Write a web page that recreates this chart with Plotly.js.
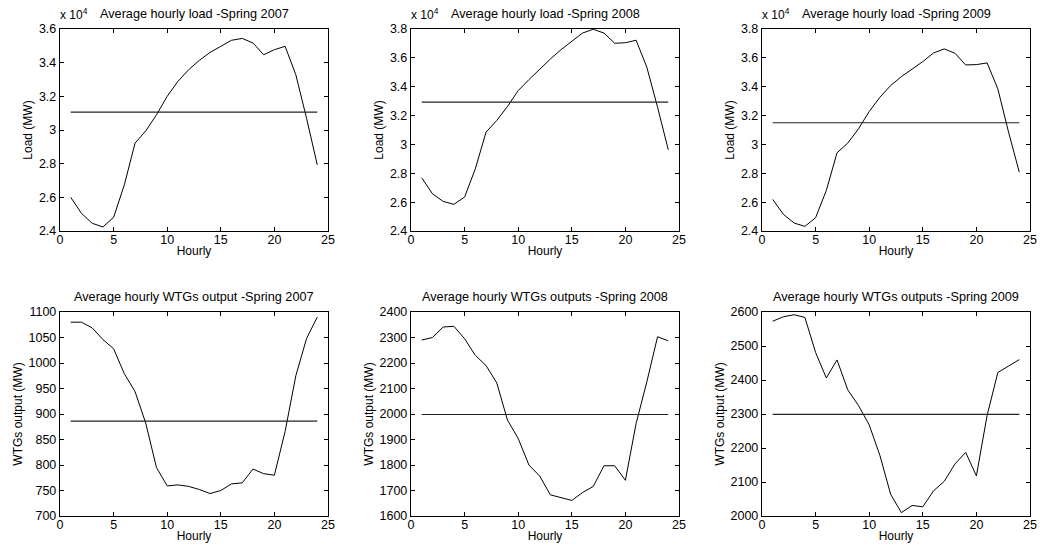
<!DOCTYPE html>
<html>
<head>
<meta charset="utf-8">
<script src="https://cdn.plot.ly/plotly-3.0.1.min.js"></script>
<style>
  html, body { margin: 0; padding: 0; background: #fff; }
  #chart { width: 1040px; height: 556px; }
</style>
</head>
<body>
<div id="chart"></div>
<script>
// Hours of the day
const hours = [1,2,3,4,5,6,7,8,9,10,11,12,13,14,15,16,17,18,19,20,21,22,23,24];

// Average hourly load (MW), spring seasons
const load2007 = [26000,25050,24460,24240,24810,26740,29220,29950,30900,32000,32890,33580,34140,34610,34970,35330,35440,35170,34470,34770,34970,33280,30700,27930];
const load2008 = [27690,26580,26050,25850,26350,28310,30850,31660,32630,33730,34490,35210,35920,36570,37120,37720,37980,37720,37010,37050,37220,35350,32580,29630];
const load2009 = [26190,25150,24550,24320,24920,26810,29420,30090,31080,32280,33270,34080,34700,35230,35740,36340,36620,36320,35510,35530,35650,33850,30850,28080];
const meanLoad = [31060, 32930, 31500];

// Average hourly WTGs output (MW), spring seasons
const wtg2007 = [1080,1080,1069,1046,1028,979,944,882,795,759,761,758,752,744,750,763,765,792,783,780,866,975,1048,1090];
const wtg2008 = [2290,2300,2341,2344,2295,2230,2190,2122,1976,1904,1800,1757,1683,1671,1661,1692,1716,1797,1797,1740,1963,2126,2303,2287];
const wtg2009 = [2573,2586,2592,2584,2481,2406,2459,2371,2325,2268,2178,2064,2010,2031,2027,2074,2102,2153,2187,2118,2296,2422,2441,2460];
const meanWtg = [886, 1998, 2299];

// Panel titles
const loadTitles = ['Average hourly load -Spring 2007', 'Average hourly load -Spring 2008', 'Average hourly load -Spring 2009'];
const wtgTitles = ['Average hourly WTGs output -Spring 2007', 'Average hourly WTGs outputs -Spring 2008', 'Average hourly WTGs outputs -Spring 2009'];

// Tick labels
const xTicks = [0, 5, 10, 15, 20, 25];
const loadTicks2007 = [24000, 26000, 28000, 30000, 32000, 34000, 36000];
const loadTicks0809 = [24000, 26000, 28000, 30000, 32000, 34000, 36000, 38000];
const loadTickText2007 = ['2.4', '2.6', '2.8', '3', '3.2', '3.4', '3.6'];
const loadTickText0809 = ['2.4', '2.6', '2.8', '3', '3.2', '3.4', '3.6', '3.8'];
const wtgTicks2007 = [700, 750, 800, 850, 900, 950, 1000, 1050, 1100];
const wtgTicks2008 = [1600, 1700, 1800, 1900, 2000, 2100, 2200, 2300, 2400];
const wtgTicks2009 = [2000, 2100, 2200, 2300, 2400, 2500, 2600];

const W = 1040, H = 556;
const FONT = 'Liberation Sans, Arial, sans-serif';

// Plot-area placement in pixels: columns [left,right], rows [top,bottom]
const cols = [[60, 328], [411, 679], [762, 1030]];
const rows = [[29, 231], [312, 516]];

const series = [
  { y: load2007, mean: meanLoad[0], title: loadTitles[0], range: [24000, 36000], tv: loadTicks2007, tt: loadTickText2007, ylab: 'Load (MW)', exp: true },
  { y: load2008, mean: meanLoad[1], title: loadTitles[1], range: [24000, 38000], tv: loadTicks0809, tt: loadTickText0809, ylab: 'Load (MW)', exp: true },
  { y: load2009, mean: meanLoad[2], title: loadTitles[2], range: [24000, 38000], tv: loadTicks0809, tt: loadTickText0809, ylab: 'Load (MW)', exp: true },
  { y: wtg2007, mean: meanWtg[0], title: wtgTitles[0], range: [700, 1100], tv: wtgTicks2007, tt: wtgTicks2007.map(String), ylab: 'WTGs output (MW)', exp: false },
  { y: wtg2008, mean: meanWtg[1], title: wtgTitles[1], range: [1600, 2400], tv: wtgTicks2008, tt: wtgTicks2008.map(String), ylab: 'WTGs output (MW)', exp: false },
  { y: wtg2009, mean: meanWtg[2], title: wtgTitles[2], range: [2000, 2600], tv: wtgTicks2009, tt: wtgTicks2009.map(String), ylab: 'WTGs output (MW)', exp: false }
];

const traces = [];
const layout = {
  width: W, height: H,
  margin: { l: 0, r: 0, t: 0, b: 0 },
  paper_bgcolor: '#fff', plot_bgcolor: '#fff',
  showlegend: false,
  font: { family: FONT, size: 12, color: '#000' },
  annotations: []
};

series.forEach((s, i) => {
  const r = Math.floor(i / 3), c = i % 3;
  const n = i + 1;
  const xa = 'x' + (n === 1 ? '' : n), ya = 'y' + (n === 1 ? '' : n);
  const xk = 'xaxis' + (n === 1 ? '' : n), yk = 'yaxis' + (n === 1 ? '' : n);
  const [x0, x1] = cols[c];
  const [yt, yb] = rows[r];

  traces.push({
    x: hours, y: s.y, xaxis: xa, yaxis: ya, type: 'scatter', mode: 'lines',
    line: { color: '#000', width: 1 }, hoverinfo: 'x+y'
  });
  traces.push({
    x: [hours[0], hours[hours.length - 1]], y: [s.mean, s.mean], xaxis: xa, yaxis: ya,
    type: 'scatter', mode: 'lines', line: { color: '#222', width: 1.1 }, hoverinfo: 'y'
  });

  const common = {
    showline: true, linecolor: '#000', linewidth: 1.2, mirror: 'ticks',
    ticks: 'inside', ticklen: 4, tickwidth: 1, tickcolor: '#000',
    showgrid: false, zeroline: false,
    tickfont: { family: FONT, size: 12.5, color: '#000' }
  };
  layout[xk] = Object.assign({}, common, {
    domain: [x0 / W, x1 / W], anchor: ya, range: [0, 25],
    tickmode: 'array', tickvals: xTicks, ticktext: xTicks.map(String),
    ticklabelstandoff: -3,
    title: { text: 'Hourly', font: { family: FONT, size: 12, color: '#000' }, standoff: 0 }
  });
  layout[yk] = Object.assign({}, common, {
    domain: [(H - yb) / H, (H - yt) / H], anchor: xa, range: s.range,
    tickmode: 'array', tickvals: s.tv, ticktext: s.tt,
    title: { text: s.ylab, font: { family: FONT, size: 12, color: '#000' }, standoff: 3 }
  });

  // panel title
  layout.annotations.push({
    xref: 'paper', yref: 'paper', x: (x0 + x1) / 2 / W, y: (H - (yt - 6)) / H,
    xanchor: 'center', yanchor: 'bottom', showarrow: false,
    text: s.title, font: { family: FONT, size: 12.7, color: '#000' }
  });
  // exponent marker for load panels
  if (s.exp) {
    layout.annotations.push({
      xref: 'paper', yref: 'paper', x: (x0 - 2) / W, y: (H - (yt - 5)) / H,
      xanchor: 'left', yanchor: 'bottom', showarrow: false,
      text: 'x 10<sup>4</sup>', font: { family: FONT, size: 12, color: '#000' }
    });
  }
});

Plotly.newPlot('chart', traces, layout, { displayModeBar: false, staticPlot: true });
</script>
</body>
</html>
